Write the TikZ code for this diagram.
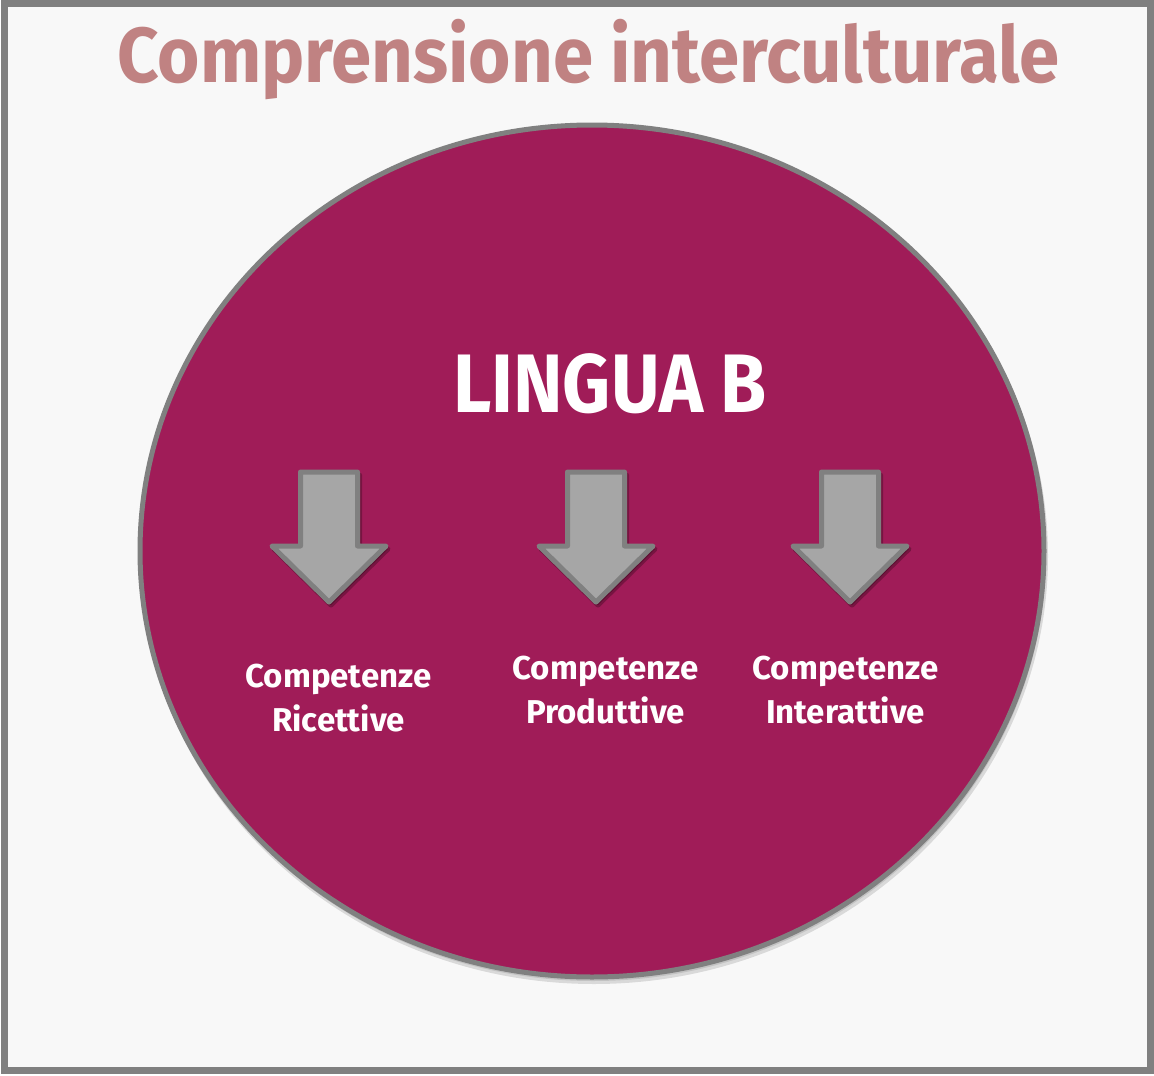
\documentclass[tikz,border=0pt]{standalone}
\usepackage{fontspec}
\setmainfont{Fira Sans}
\definecolor{bgc}{HTML}{F8F8F8}
\definecolor{framec}{HTML}{808080}
\definecolor{titlec}{HTML}{C08282}
\definecolor{circc}{HTML}{A01C58}
\definecolor{arrowfill}{HTML}{A6A6A6}
\definecolor{arroweline}{HTML}{808080}
\tikzset{
  frame/.style={draw=framec, line width=7pt, fill=bgc},
  bigcircle/.style={draw=framec, line width=5pt, fill=circc},
  arrowshape/.style={draw=arroweline, line width=5pt, fill=arrowfill, line join=round},
  arrowshadow/.style={fill=black, opacity=0.25, line width=5pt, draw=black, line join=round},
  titletext/.style={text=titlec, font=\fontsize{78}{84}\selectfont\bfseries, inner sep=0pt},
  maintext/.style={text=white, font=\fontsize{83}{90}\selectfont\bfseries, inner sep=0pt},
  comptext/.style={text=white, font=\fontsize{33}{44}\selectfont\bfseries, inner sep=0pt, align=center},
}
\begin{document}
\begin{tikzpicture}[x=1pt,y=-1pt]
\useasboundingbox (0,0) rectangle (1154,1076);
\fill[white] (0,0) rectangle (1154,1076);
\draw[frame] (4.5,3.5) rectangle (1150.5,1070);
\node[titletext, anchor=base] (title) at (588.5,82) {\scalebox{0.93}[1]{Comprensione interculturale}};
% ellipse shadow
\fill[black, opacity=0.12] (594,556) ellipse [x radius=454, y radius=428];
\fill[black, opacity=0.10] (593,554) ellipse [x radius=453, y radius=427];
\draw[bigcircle] (592,551) ellipse [x radius=452, y radius=426];
\node[maintext, anchor=base] (lingua) at (610,412) {\scalebox{0.90}[1]{LINGUA B}};
% arrows
\foreach \cx in {329, 596, 850}{
  \begin{scope}[shift={(2,3)}]
    \path[arrowshadow] (\cx-28.5,472) -- (\cx+28.5,472) -- (\cx+28.5,546) -- (\cx+57,546) -- (\cx,602) -- (\cx-57,546) -- (\cx-28.5,546) -- cycle;
  \end{scope}
  \path[arrowshape] (\cx-28.5,472) -- (\cx+28.5,472) -- (\cx+28.5,546) -- (\cx+57,546) -- (\cx,602) -- (\cx-57,546) -- (\cx-28.5,546) -- cycle;
}
\node[comptext, anchor=north] (ric) at (338.5,664) {Competenze\\Ricettive};
\node[comptext, anchor=north] (prod) at (605.5,656) {Competenze\\Produttive};
\node[comptext, anchor=north] (inter) at (845.5,656) {Competenze\\Interattive};
\end{tikzpicture}
\end{document}
